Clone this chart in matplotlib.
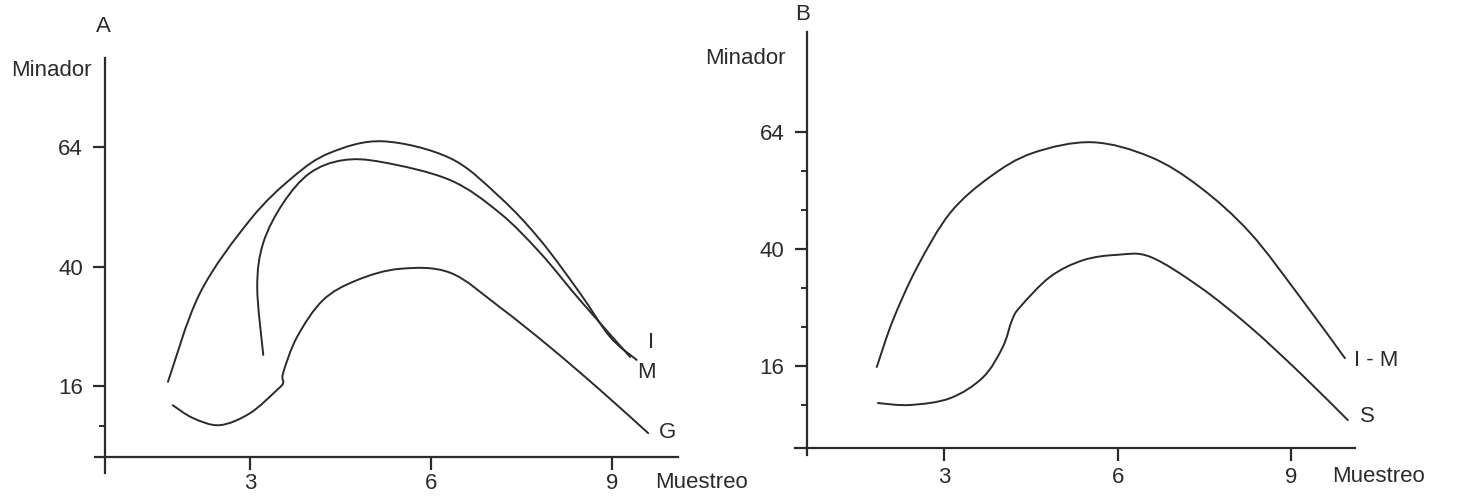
import matplotlib
matplotlib.use("Agg")
import matplotlib.pyplot as plt
from matplotlib.path import Path
from matplotlib.patches import PathPatch

plt.rcParams["font.family"] = ["Liberation Sans", "DejaVu Sans"]

# --- Daten ---
# Panel A
a_i_x = [1.64, 2.17, 3.00, 3.71, 4.33, 5.20, 6.32, 7.14, 7.81, 8.47, 8.97, 9.41]
a_i_y = [16.9, 34.7, 49.4, 58.0, 62.9, 65.2, 61.8, 54.0, 45.4, 34.7, 25.9, 21.3]

a_m_x = [3.22, 3.12, 3.22, 3.55, 3.99, 4.54, 5.20, 6.32, 7.14, 7.81, 8.47, 9.30]
a_m_y = [22.3, 35.9, 44.8, 52.8, 58.8, 61.4, 61.0, 57.4, 50.8, 42.8, 33.3, 21.9]

a_g_x = [1.72, 2.06, 2.50, 3.00, 3.45, 3.55, 3.55, 3.78, 4.21, 4.77, 5.49, 6.32, 7.14, 7.97, 8.80, 9.60]
a_g_y = [12.2, 9.6, 8.2, 10.6, 15.3, 16.7, 18.7, 25.9, 33.3, 37.3, 39.6, 38.8, 31.9, 23.9, 15.3, 6.6]

# Panel B
b_im_x = [1.83, 2.11, 2.53, 3.10, 3.79, 4.53, 5.55, 6.56, 7.42, 8.29, 9.15, 9.93]
b_im_y = [15.8, 25.4, 36.3, 47.4, 54.8, 59.7, 61.9, 58.9, 52.7, 43.3, 30.2, 17.6]

b_s_x = [1.85, 2.40, 3.10, 3.67, 4.01, 4.17, 4.31, 4.83, 5.40, 5.99, 6.56, 7.42, 8.29, 9.15, 9.98]
b_s_y = [8.4, 8.0, 9.4, 13.7, 19.9, 25.4, 28.1, 34.3, 37.7, 38.8, 38.4, 32.2, 24.0, 14.6, 4.9]

x_ticks = [3, 6, 9]
y_ticks = [16, 40, 64]
a_minor = [8]
b_minor = [8, 24, 32, 48, 56]

W, H = 1458, 500
ink = "#2b2b2b"
fs = 16

fig = plt.figure(figsize=(W / 100, H / 100), dpi=100)


def achse(x0, sx, y0, sy, xlim, ylim, xa, ya, xb, yb, minor, xpad):
    # x0/y0: Pixel des Datenursprungs, sx/sy: Pixel pro Einheit
    left = x0 + sx * xlim[0]
    right = x0 + sx * xlim[1]
    top = y0 - sy * ylim[1]
    bottom = y0 - sy * ylim[0]
    ax = fig.add_axes([left / W, 1 - bottom / H, (right - left) / W, (bottom - top) / H])
    ax.set_xlim(xlim)
    ax.set_ylim(ylim)
    ax.patch.set_alpha(0)
    for s in ["top", "right"]:
        ax.spines[s].set_visible(False)
    ax.spines["left"].set_position(("data", xa))
    ax.spines["bottom"].set_position(("data", ya))
    ax.spines["left"].set_bounds(*yb)
    ax.spines["bottom"].set_bounds(*xb)
    for s in ["left", "bottom"]:
        ax.spines[s].set_linewidth(1.6)
        ax.spines[s].set_color(ink)
    ax.set_xticks(x_ticks)
    ax.set_yticks(y_ticks)
    ax.set_yticks(minor, minor=True)
    ax.tick_params(axis="y", which="major", length=9, width=1.6, pad=7,
                   colors=ink, labelsize=fs)
    ax.tick_params(axis="y", which="minor", length=4.5, width=1.4, colors=ink)
    ax.tick_params(axis="x", which="major", length=9, width=1.6, pad=xpad,
                   colors=ink, labelsize=fs)
    return ax


def kurve(ax, xs, ys):
    pts = list(zip(xs, ys))
    verts = [pts[0]]
    codes = [Path.MOVETO]
    n = len(pts)
    for i in range(n - 1):
        p0 = pts[max(i - 1, 0)]
        p1 = pts[i]
        p2 = pts[i + 1]
        p3 = pts[min(i + 2, n - 1)]
        c1 = (p1[0] + (p2[0] - p0[0]) / 6, p1[1] + (p2[1] - p0[1]) / 6)
        c2 = (p2[0] - (p3[0] - p1[0]) / 6, p2[1] - (p3[1] - p1[1]) / 6)
        verts += [c1, c2, p2]
        codes += [Path.CURVE4] * 3
    ax.add_patch(PathPatch(Path(verts, codes), fill=False, edgecolor=ink,
                           lw=1.4, capstyle="round"))


axA = achse(69, 60.33, 466, 4.98, (0, 10.5), (-4, 86), 0.6, 1.8,
            (0.43, 10.1), (-1.5, 82), a_minor, 2.5)
kurve(axA, a_i_x, a_i_y)
kurve(axA, a_m_x, a_m_y)
kurve(axA, a_g_x, a_g_y)

axB = achse(771, 57.8, 444, 4.875, (0, 10.8), (-4, 88), 0.62, -0.82,
            (0.415, 10.1), (-2.3, 84.5), b_minor, 4.5)
kurve(axB, b_im_x, b_im_y)
kurve(axB, b_s_x, b_s_y)


def txt(x, y, s, ha="left"):
    fig.text(x / W, 1 - y / H, s, ha=ha, va="center", fontsize=fs, color=ink)


txt(103, 27, "A", "center")
txt(92, 70, "Minador", "right")
txt(655, 482, "Muestreo")
txt(648, 342, "I")
txt(637, 373, "M")
txt(659, 433, "G")

txt(803, 15, "B", "center")
txt(786, 59, "Minador", "right")
txt(1332, 476, "Muestreo")
txt(1354, 360, "I - M")
txt(1360, 417, "S")

fig.savefig("out.png", dpi=100, facecolor="white")
